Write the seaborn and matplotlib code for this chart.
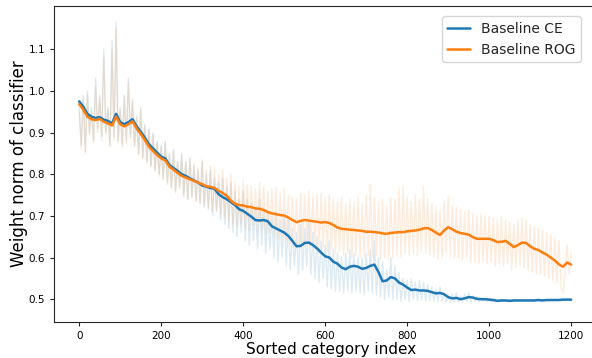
import numpy as np
import matplotlib
matplotlib.use("Agg")
import matplotlib.pyplot as plt
import seaborn as sns

sns.set_style("ticks")

# smoothed curves, every 10th sorted category
idx_smooth = list(range(0, 1201, 10))
# raw per-category weight norms, every 5th sorted category
idx_raw = list(range(0, 1201, 5))

ce_smooth = [0.975, 0.962, 0.945, 0.938, 0.935, 0.937, 0.931, 0.928, 0.922, 0.945,
             0.925, 0.920, 0.925, 0.932, 0.915, 0.902, 0.888, 0.872, 0.862, 0.852,
             0.842, 0.838, 0.822, 0.815, 0.808, 0.800, 0.796, 0.790, 0.785, 0.780,
             0.773, 0.770, 0.767, 0.765, 0.752, 0.745, 0.740, 0.733, 0.726, 0.716,
             0.712, 0.705, 0.698, 0.690, 0.689, 0.690, 0.687, 0.675, 0.670, 0.665,
             0.660, 0.652, 0.640, 0.627, 0.628, 0.635, 0.636, 0.630, 0.622, 0.612,
             0.603, 0.600, 0.590, 0.585, 0.576, 0.572, 0.578, 0.580, 0.578, 0.573,
             0.575, 0.580, 0.583, 0.565, 0.543, 0.545, 0.553, 0.550, 0.540, 0.535,
             0.528, 0.522, 0.523, 0.521, 0.521, 0.520, 0.517, 0.514, 0.515, 0.512,
             0.505, 0.502, 0.503, 0.500, 0.502, 0.505, 0.504, 0.501, 0.500, 0.500,
             0.499, 0.498, 0.496, 0.497, 0.497, 0.496, 0.497, 0.497, 0.497, 0.497,
             0.497, 0.497, 0.498, 0.497, 0.498, 0.498, 0.498, 0.498, 0.499, 0.499,
             0.499]

rog_smooth = [0.968, 0.955, 0.938, 0.932, 0.930, 0.933, 0.926, 0.922, 0.917, 0.938,
              0.920, 0.915, 0.920, 0.927, 0.910, 0.897, 0.882, 0.866, 0.856, 0.846,
              0.838, 0.833, 0.818, 0.811, 0.803, 0.796, 0.792, 0.788, 0.784, 0.780,
              0.776, 0.771, 0.770, 0.767, 0.760, 0.755, 0.748, 0.737, 0.729, 0.726,
              0.725, 0.722, 0.721, 0.718, 0.717, 0.714, 0.709, 0.706, 0.704, 0.702,
              0.701, 0.696, 0.690, 0.685, 0.688, 0.690, 0.689, 0.687, 0.686, 0.684,
              0.685, 0.683, 0.678, 0.672, 0.669, 0.668, 0.667, 0.666, 0.665, 0.664,
              0.662, 0.662, 0.661, 0.660, 0.658, 0.657, 0.659, 0.660, 0.661, 0.661,
              0.663, 0.664, 0.665, 0.667, 0.670, 0.671, 0.666, 0.660, 0.654, 0.665,
              0.673, 0.668, 0.662, 0.659, 0.657, 0.655, 0.649, 0.645, 0.645, 0.645,
              0.645, 0.642, 0.637, 0.638, 0.640, 0.633, 0.625, 0.630, 0.636, 0.635,
              0.627, 0.621, 0.618, 0.612, 0.607, 0.600, 0.593, 0.584, 0.578, 0.588,
              0.583]

ce_raw = [0.960, 0.870, 0.990, 0.855, 1.000, 0.900, 0.960, 0.880, 1.030, 0.910,
          0.990, 0.890, 1.100, 0.900, 0.960, 0.870, 1.120, 0.890, 1.165, 0.880,
          0.960, 0.870, 0.990, 0.880, 1.030, 0.890, 0.980, 0.870, 0.940, 0.850,
          0.960, 0.840, 0.920, 0.830, 0.910, 0.820, 0.900, 0.810, 0.880, 0.800,
          0.870, 0.790, 0.880, 0.780, 0.850, 0.770, 0.860, 0.760, 0.830, 0.770,
          0.850, 0.750, 0.830, 0.740, 0.840, 0.745, 0.820, 0.735, 0.810, 0.730,
          0.830, 0.720, 0.800, 0.715, 0.810, 0.700, 0.790, 0.710, 0.780, 0.690,
          0.790, 0.680, 0.770, 0.670, 0.780, 0.660, 0.760, 0.650, 0.740, 0.660,
          0.760, 0.640, 0.740, 0.630, 0.730, 0.640, 0.720, 0.620, 0.740, 0.630,
          0.720, 0.610, 0.710, 0.620, 0.700, 0.600, 0.710, 0.590, 0.690, 0.600,
          0.700, 0.580, 0.690, 0.570, 0.670, 0.580, 0.660, 0.560, 0.680, 0.570,
          0.670, 0.580, 0.690, 0.560, 0.660, 0.550, 0.650, 0.540, 0.640, 0.550,
          0.630, 0.530, 0.640, 0.525, 0.620, 0.520, 0.610, 0.520, 0.600, 0.515,
          0.610, 0.520, 0.620, 0.515, 0.610, 0.520, 0.600, 0.515, 0.600, 0.510,
          0.610, 0.520, 0.620, 0.515, 0.640, 0.510, 0.600, 0.505, 0.590, 0.500,
          0.570, 0.505, 0.600, 0.500, 0.580, 0.500, 0.560, 0.495, 0.550, 0.500,
          0.545, 0.495, 0.550, 0.500, 0.540, 0.497, 0.545, 0.498, 0.540, 0.496,
          0.535, 0.497, 0.530, 0.495, 0.525, 0.494, 0.530, 0.495, 0.515, 0.493,
          0.510, 0.492, 0.512, 0.494, 0.515, 0.493, 0.508, 0.494, 0.512, 0.495,
          0.515, 0.494, 0.508, 0.495, 0.506, 0.494, 0.504, 0.495, 0.503, 0.494,
          0.502, 0.494, 0.501, 0.493, 0.500, 0.494, 0.501, 0.494, 0.500, 0.495,
          0.500, 0.494, 0.500, 0.495, 0.499, 0.495, 0.500, 0.495, 0.499, 0.495,
          0.500, 0.495, 0.499, 0.496, 0.500, 0.496, 0.500, 0.496, 0.500, 0.496,
          0.500, 0.497, 0.500, 0.497, 0.500, 0.497, 0.501, 0.497, 0.501, 0.498,
          0.499]

rog_raw = [0.950, 0.860, 0.980, 0.850, 0.990, 0.895, 0.950, 0.875, 1.010, 0.900,
           0.985, 0.880, 1.080, 0.895, 0.955, 0.865, 1.100, 0.880, 1.150, 0.875,
           0.955, 0.865, 0.985, 0.875, 1.020, 0.885, 0.975, 0.865, 0.935, 0.845,
           0.955, 0.835, 0.915, 0.825, 0.905, 0.815, 0.895, 0.805, 0.875, 0.795,
           0.865, 0.785, 0.875, 0.775, 0.845, 0.765, 0.855, 0.755, 0.830, 0.765,
           0.845, 0.745, 0.830, 0.740, 0.835, 0.745, 0.825, 0.735, 0.815, 0.730,
           0.835, 0.725, 0.810, 0.720, 0.820, 0.710, 0.810, 0.715, 0.800, 0.705,
           0.810, 0.695, 0.790, 0.690, 0.800, 0.680, 0.780, 0.675, 0.770, 0.680,
           0.785, 0.670, 0.775, 0.665, 0.770, 0.675, 0.765, 0.660, 0.780, 0.665,
           0.770, 0.655, 0.760, 0.660, 0.765, 0.650, 0.770, 0.645, 0.755, 0.650,
           0.765, 0.640, 0.750, 0.635, 0.745, 0.640, 0.740, 0.630, 0.755, 0.635,
           0.750, 0.640, 0.760, 0.630, 0.745, 0.625, 0.750, 0.620, 0.755, 0.625,
           0.745, 0.615, 0.750, 0.620, 0.740, 0.610, 0.735, 0.615, 0.745, 0.605,
           0.730, 0.610, 0.740, 0.600, 0.735, 0.605, 0.745, 0.600, 0.730, 0.600,
           0.750, 0.605, 0.775, 0.600, 0.745, 0.605, 0.735, 0.595, 0.740, 0.600,
           0.725, 0.595, 0.745, 0.600, 0.740, 0.605, 0.765, 0.600, 0.770, 0.610,
           0.745, 0.605, 0.735, 0.610, 0.750, 0.605, 0.740, 0.615, 0.770, 0.610,
           0.740, 0.605, 0.730, 0.600, 0.720, 0.595, 0.715, 0.600, 0.735, 0.610,
           0.745, 0.605, 0.725, 0.600, 0.720, 0.600, 0.715, 0.595, 0.710, 0.600,
           0.715, 0.590, 0.705, 0.590, 0.700, 0.585, 0.705, 0.590, 0.700, 0.585,
           0.700, 0.590, 0.695, 0.580, 0.690, 0.585, 0.700, 0.580, 0.690, 0.585,
           0.685, 0.570, 0.680, 0.575, 0.690, 0.580, 0.695, 0.575, 0.690, 0.570,
           0.680, 0.565, 0.675, 0.560, 0.670, 0.560, 0.665, 0.555, 0.660, 0.550,
           0.655, 0.545, 0.645, 0.540, 0.640, 0.530, 0.515, 0.560, 0.630, 0.560,
           0.610]

assert len(ce_raw) == len(idx_raw) and len(rog_raw) == len(idx_raw)
assert len(ce_smooth) == len(idx_smooth) and len(rog_smooth) == len(idx_smooth)

fig = plt.figure(figsize=(5.92, 3.58), dpi=100)
ax = fig.add_axes([0.0912, 0.1014, 0.937, 0.882])

# faint raw curves
sns.lineplot(x=idx_raw, y=ce_raw, color="tab:blue", alpha=0.15, lw=1.0, ax=ax)
sns.lineplot(x=idx_raw, y=rog_raw, color="tab:orange", alpha=0.15, lw=1.0, ax=ax)
# smoothed curves
sns.lineplot(x=idx_smooth, y=ce_smooth, color="tab:blue", lw=1.8, label="Baseline CE", ax=ax)
sns.lineplot(x=idx_smooth, y=rog_smooth, color="tab:orange", lw=1.8, label="Baseline ROG", ax=ax)

ax.set_xlim(-61.5, 1291.5)
ax.set_ylim(0.446, 1.204)
ax.set_xticks([0, 200, 400, 600, 800, 1000, 1200])
ax.set_yticks([0.5, 0.6, 0.7, 0.8, 0.9, 1.0, 1.1])
ax.tick_params(labelsize=7.5, length=3, labelcolor="black")
ax.set_xlabel("Sorted category index", fontsize=11, labelpad=1, color="black")
ax.set_ylabel("Weight norm of classifier", fontsize=12, labelpad=0, color="black")
ax.legend(loc="upper right", fontsize=10, bbox_to_anchor=(0.962, 0.99),
          handlelength=1.6)

fig.savefig("out.png", dpi=100)
